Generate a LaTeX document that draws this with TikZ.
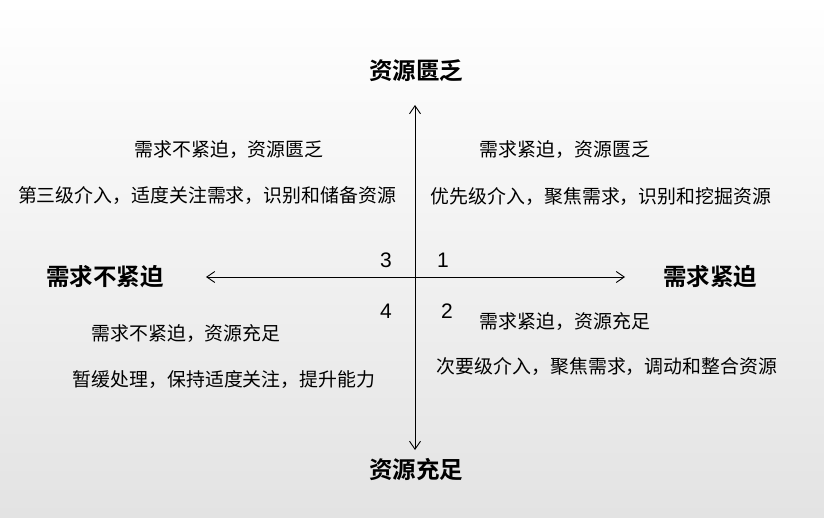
\documentclass[tikz,border=0pt]{standalone}
\usepackage{fontspec}
\setmainfont{Liberation Sans}
\newfontfamily\cjk{Noto Sans CJK SC}
\newfontfamily\cjkb{Noto Sans CJK SC Bold}
\usetikzlibrary{arrows.meta}
\tikzset{
  axisline/.style={draw=black, line width=0.9pt, {Straight Barb[length=8pt,width=11pt,line width=0.9pt]}-{Straight Barb[length=8pt,width=11pt,line width=0.9pt]}},
  titletext/.style={inner sep=0pt, font=\cjkb\fontsize{23.5}{26}\selectfont},
  quadtext/.style={inner sep=0pt, font=\cjk\fontsize{18.9}{21}\selectfont},
  numtext/.style={inner sep=0pt, font=\fontsize{21}{24}\selectfont}
}
\begin{document}
\begin{tikzpicture}[x=1pt,y=-1pt]
\shade[top color=white,bottom color=black!11] (0,0) rectangle (824,518);
\useasboundingbox (0,0) rectangle (824,518);
% axes end points
\coordinate (top) at (415,105);
\coordinate (bot) at (415,450);
\coordinate (lft) at (206,277);
\coordinate (rgt) at (625,277);
\draw[axisline] (top) -- (bot);
\draw[axisline] (lft) -- (rgt);
% titles
\node[titletext] (tt) at (416,71) {资源匮乏};
\node[titletext] (tb) at (416,470) {资源充足};
\node[titletext] (tl) at (105,277) {需求不紧迫};
\node[titletext] (tr) at (710,277) {需求紧迫};
% numbers
\node[numtext] (n3) at (386,260) {3};
\node[numtext] (n1) at (443,260) {1};
\node[numtext] (n4) at (386,311) {4};
\node[numtext] (n2) at (447,311) {2};
% quadrant texts
\node[quadtext] (q3a) at (229,150) {需求不紧迫，资源匮乏};
\node[quadtext] (q3b) at (207,196) {第三级介入，适度关注需求，识别和储备资源};
\node[quadtext] (q1a) at (565,150) {需求紧迫，资源匮乏};
\node[quadtext] (q1b) at (601,196) {优先级介入，聚焦需求，识别和挖掘资源};
\node[quadtext] (q4a) at (186,334) {需求不紧迫，资源充足};
\node[quadtext] (q4b) at (224,380) {暂缓处理，保持适度关注，提升能力};
\node[quadtext] (q2a) at (565,322) {需求紧迫，资源充足};
\node[quadtext] (q2b) at (607,367) {次要级介入，聚焦需求，调动和整合资源};
\end{tikzpicture}
\end{document}
